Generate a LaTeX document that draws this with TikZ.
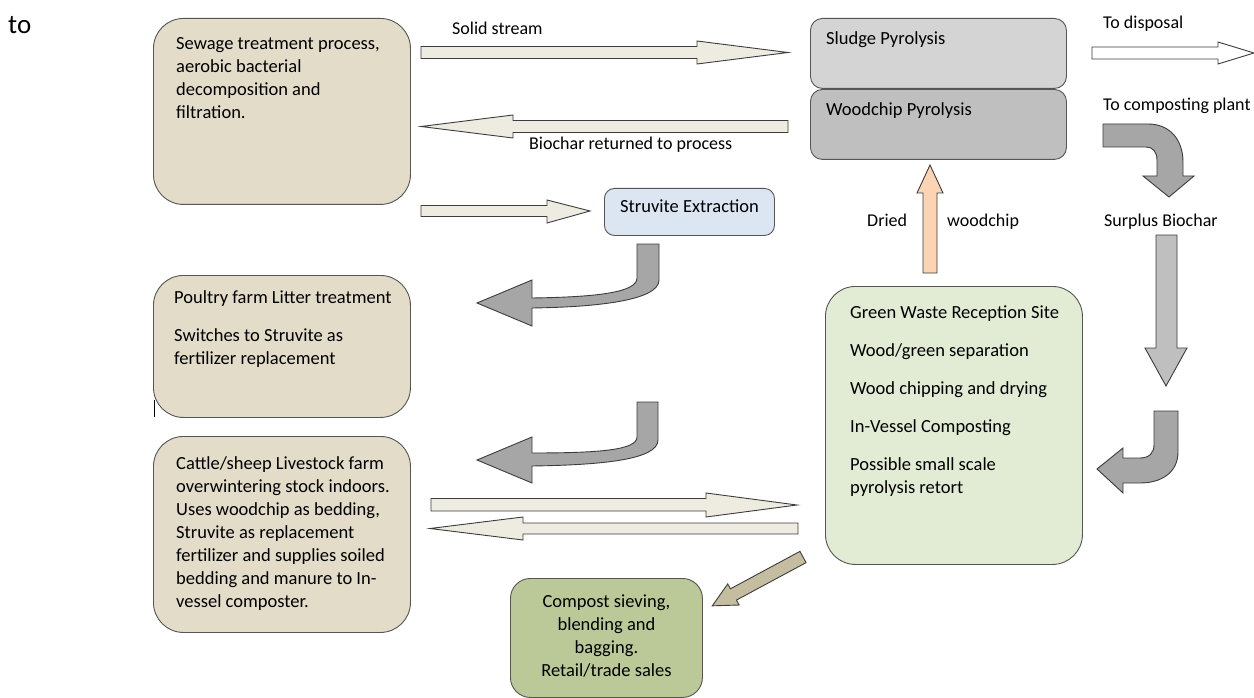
\documentclass[tikz,border=0pt]{standalone}
\usepackage{fontspec}
\setmainfont{Carlito}
\usetikzlibrary{positioning}

\definecolor{boxedge}{RGB}{85,85,85}
\definecolor{arrowedge}{RGB}{60,60,60}
\definecolor{beigebox}{RGB}{226,220,201}
\definecolor{sludgegray}{RGB}{212,212,212}
\definecolor{woodgray}{RGB}{191,191,191}
\definecolor{struviteblue}{RGB}{220,230,242}
\definecolor{greenwaste}{RGB}{226,235,211}
\definecolor{compostgreen}{RGB}{187,201,152}
\definecolor{arrowcream}{RGB}{238,236,225}
\definecolor{curvegray}{RGB}{166,166,166}
\definecolor{surplusgray}{RGB}{191,191,191}
\definecolor{peach}{RGB}{251,212,180}
\definecolor{khaki}{RGB}{196,189,160}

\begin{document}
\begin{tikzpicture}[
    x=1pt, y=-1pt,
    procbox/.style={rectangle, draw=boxedge, line width=0.9pt, rounded corners=30pt, anchor=north west, inner sep=0pt},
    boxtext/.style={inner sep=0pt, align=left, font=\fontsize{18.5}{23}\selectfont},
    flowlabel/.style={inner sep=0pt, anchor=base west, font=\fontsize{18}{23}\selectfont},
    blockarrow/.style={draw=arrowedge, line width=0.9pt, line join=miter}
]
    \useasboundingbox (0,0) rectangle (1254,698);
    \fill[white] (0,0) rectangle (1254,698);

    \node[flowlabel, font=\fontsize{27}{32}\selectfont] (to) at (8,34) {to};

    % process boxes
    \node[procbox, fill=beigebox, minimum width=257, minimum height=186] (sewage) at (153,18) {};
    \node[procbox, fill=sludgegray, rounded corners=12pt, minimum width=256, minimum height=70] (sludge) at (810,18) {};
    \node[procbox, fill=woodgray, rounded corners=12pt, minimum width=256, minimum height=70] (woodchip) at (810,89) {};
    \node[procbox, fill=struviteblue, rounded corners=10pt, minimum width=170, minimum height=47] (struvite) at (604,188) {};
    \node[procbox, fill=beigebox, minimum width=257, minimum height=142] (poultry) at (153,275) {};
    \node[procbox, fill=beigebox, minimum width=257, minimum height=196] (cattle) at (153,436) {};
    \node[procbox, fill=greenwaste, minimum width=257, minimum height=278] (green) at (825,286) {};
    \node[procbox, fill=compostgreen, rounded corners=20pt, minimum width=192, minimum height=119] (compost) at (510,578) {};

    \node[boxtext, below right=19pt and 23pt of sewage.north west] (sewagetxt) {Sewage treatment process,\\ aerobic bacterial\\ decomposition and\\ filtration.};
    \node[boxtext, below right=13pt and 16pt of sludge.north west] (sludgetxt) {Sludge Pyrolysis};
    \node[boxtext, below right=13pt and 16pt of woodchip.north west] (woodchiptxt) {Woodchip Pyrolysis};
    \node[boxtext, below right=12pt and 16pt of struvite.north west] (struvitetxt) {Struvite Extraction};
    \node[boxtext, below right=15pt and 21pt of poultry.north west] (poultrytxt) {Poultry farm Litter treatment\\[15pt] Switches to Struvite as\\ fertilizer replacement};
    \node[boxtext, below right=20pt and 23pt of cattle.north west] (cattletxt) {Cattle/sheep Livestock farm\\ overwintering stock indoors.\\ Uses woodchip as bedding,\\ Struvite as replacement\\ fertilizer and supplies soiled\\ bedding and manure to In-\\ vessel composter.};
    \node[boxtext, below right=20pt and 25pt of green.north west] (greentxt) {Green Waste Reception Site\\[15pt] Wood/green separation\\[15pt] Wood chipping and drying\\[15pt] In-Vessel Composting\\[15pt] Possible small scale\\ pyrolysis retort};
    \node[boxtext, align=center, anchor=north, below=17pt of compost.north] (composttxt) {Compost sieving,\\ blending and\\ bagging.\\ Retail/trade sales};

    \draw[line width=1pt] (154,400) -- (154,417);

    % straight block arrows
    \draw[blockarrow, fill=arrowcream] (421,46.5) -- (697,46.5) -- (697,41) -- (788,52.5) -- (697,64) -- (697,58.5) -- (421,58.5) -- cycle;
    \draw[blockarrow, fill=arrowcream] (788,120.5) -- (513,120.5) -- (513,115) -- (421,126.5) -- (513,138) -- (513,132.5) -- (788,132.5) -- cycle;
    \draw[blockarrow, fill=white] (1092,47) -- (1218,47) -- (1218,42) -- (1254,53) -- (1218,64) -- (1218,59) -- (1092,59) -- cycle;
    \draw[blockarrow, fill=arrowcream] (421,205.5) -- (547,205.5) -- (547,200) -- (590,211) -- (547,223) -- (547,216.5) -- (421,216.5) -- cycle;
    \draw[blockarrow, fill=arrowcream] (431,498.5) -- (706,498.5) -- (706,493) -- (797,505) -- (706,517) -- (706,511) -- (431,511) -- cycle;
    \draw[blockarrow, fill=arrowcream] (798,523) -- (523,523) -- (523,517) -- (430,528.5) -- (523,540) -- (523,534) -- (798,534) -- cycle;
    \draw[blockarrow, fill=peach] (923,273) -- (923,193) -- (917,193) -- (930,165) -- (943,193) -- (937,193) -- (937,273) -- cycle;
    \draw[blockarrow, fill=surplusgray] (1156,235) -- (1156,348) -- (1145,348) -- (1166,386) -- (1187,348) -- (1177,348) -- (1177,235) -- cycle;
    \begin{scope}[shift={(803,557)}, rotate=208.3]
        \draw[blockarrow, fill=khaki] (0,-6.4) -- (79,-6.4) -- (79,-12) -- (103,0) -- (79,12) -- (79,6.4) -- (0,6.4) -- cycle;
    \end{scope}

    % curved block arrows
    \draw[blockarrow, fill=curvegray] (1103,124) -- (1148,124) .. controls (1170,124) and (1183,140) .. (1183,162) -- (1183,176) -- (1194,176) -- (1169,197) -- (1143,176) -- (1157,176) -- (1157,160) .. controls (1157,152) and (1153,147) .. (1146,147) -- (1103,147) -- cycle;
    \draw[blockarrow, fill=curvegray] (1154,411) -- (1178,411) -- (1178,452) .. controls (1178,472) and (1162,483) .. (1140,483) -- (1123,483) -- (1123,493) -- (1097,469) -- (1123,448) -- (1123,458) -- (1140,458) .. controls (1149,458) and (1154,453) .. (1154,445) -- cycle;
    \draw[blockarrow, fill=curvegray] (637,244) -- (659,244) -- (659,280) .. controls (659,300) and (600,307) .. (532,308) -- (532,326) -- (477,303) -- (532,280) -- (532,298) .. controls (600,297) and (637,292) .. (637,278) -- cycle;
    \draw[blockarrow, fill=curvegray] (637,402) -- (658,402) -- (658,440) .. controls (658,460) and (600,465) .. (532,466) -- (532,483) -- (477,460) -- (532,437) -- (532,453) .. controls (600,453) and (637,450) .. (637,437) -- cycle;

    % flow labels
    \node[flowlabel] (solid) at (452,34.5) {Solid stream};
    \node[flowlabel] (returned) at (529,149.5) {Biochar returned to process};
    \node[flowlabel] (disposal) at (1103,28.5) {To disposal};
    \node[flowlabel] (composting) at (1103,111) {To composting plant};
    \node[flowlabel] (surplus) at (1104,226) {Surplus Biochar};
    \node[flowlabel] (dried) at (867,226) {Dried};
    \node[flowlabel] (woodchiplbl) at (947,226) {woodchip};
\end{tikzpicture}
\end{document}
